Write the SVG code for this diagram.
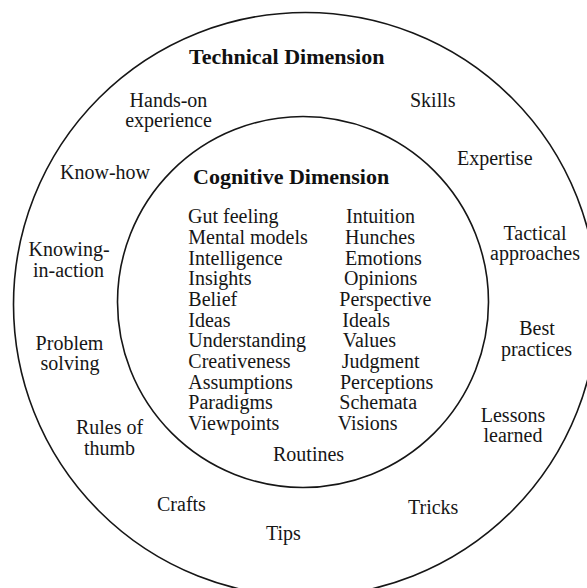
<svg xmlns="http://www.w3.org/2000/svg" width="587" height="588" viewBox="0 0 587 588">
  <style>
    .ring { fill: none; stroke: #161616; stroke-width: 1.6; }
    .t { font-family: "Liberation Serif", "Times New Roman", serif; font-size: 20px; fill: #161616; }
    .h { font-family: "Liberation Serif", "Times New Roman", serif; font-size: 22px; font-weight: bold; fill: #111; }
    .m { text-anchor: middle; }
  </style>
  <rect width="587" height="588" fill="#fff"/>

  <!-- rings -->
  <g id="rings">
    <circle id="technical-ring" class="ring" cx="305.5" cy="304.5" r="292"/>
    <circle id="cognitive-ring" class="ring" cx="303" cy="302" r="185.5"/>
  </g>

  <!-- technical dimension (outer band) -->
  <g id="technical">
    <text class="h" x="189" y="64">Technical Dimension</text>
    <g id="hands-on"><text class="t m" x="168.5" y="107">Hands-on</text><text class="t m" x="168.5" y="127">experience</text></g>
    <g id="skills"><text class="t" x="410" y="107">Skills</text></g>
    <g id="expertise"><text class="t" x="457" y="165">Expertise</text></g>
    <g id="know-how"><text class="t" x="60" y="179">Know-how</text></g>
    <g id="knowing-in-action"><text class="t m" x="69" y="256">Knowing-</text><text class="t m" x="68.5" y="277">in-action</text></g>
    <g id="tactical"><text class="t m" x="535" y="239.5">Tactical</text><text class="t m" x="535" y="259.5">approaches</text></g>
    <g id="problem-solving"><text class="t m" x="69.5" y="349.5">Problem</text><text class="t m" x="70" y="370">solving</text></g>
    <g id="best-practices"><text class="t m" x="537" y="334.5">Best</text><text class="t m" x="536.5" y="356">practices</text></g>
    <g id="rules-of-thumb"><text class="t m" x="109.5" y="434">Rules of</text><text class="t m" x="109.5" y="455">thumb</text></g>
    <g id="lessons-learned"><text class="t m" x="513" y="421.5">Lessons</text><text class="t m" x="513" y="442">learned</text></g>
    <g id="routines"><text class="t" x="273" y="461">Routines</text></g>
    <g id="crafts"><text class="t" x="157" y="511">Crafts</text></g>
    <g id="tricks"><text class="t" x="408" y="514">Tricks</text></g>
    <g id="tips"><text class="t" x="266" y="540">Tips</text></g>
  </g>

  <!-- cognitive dimension (inner circle) -->
  <g id="cognitive">
    <text class="h" x="193" y="184">Cognitive Dimension</text>
    <g id="cognitive-left" class="t">
      <text x="188" y="223.3">Gut feeling</text>
      <text x="188.3" y="244">Mental models</text>
      <text x="188.3" y="264.6">Intelligence</text>
      <text x="188.3" y="285.3">Insights</text>
      <text x="188.3" y="306">Belief</text>
      <text x="188.3" y="326.6">Ideas</text>
      <text x="188.3" y="347.3">Understanding</text>
      <text x="188.3" y="368">Creativeness</text>
      <text x="188.3" y="388.6">Assumptions</text>
      <text x="188.3" y="409.3">Paradigms</text>
      <text x="188.3" y="430">Viewpoints</text>
    </g>
    <g id="cognitive-right" class="t">
      <text x="346" y="223.3">Intuition</text>
      <text x="345" y="244">Hunches</text>
      <text x="345" y="264.6">Emotions</text>
      <text x="344" y="285.3">Opinions</text>
      <text x="339.3" y="306">Perspective</text>
      <text x="342.3" y="326.6">Ideals</text>
      <text x="342.7" y="347.3">Values</text>
      <text x="341.7" y="368">Judgment</text>
      <text x="340" y="388.6">Perceptions</text>
      <text x="339.3" y="409.3">Schemata</text>
      <text x="337.7" y="430">Visions</text>
    </g>
  </g>
</svg>
